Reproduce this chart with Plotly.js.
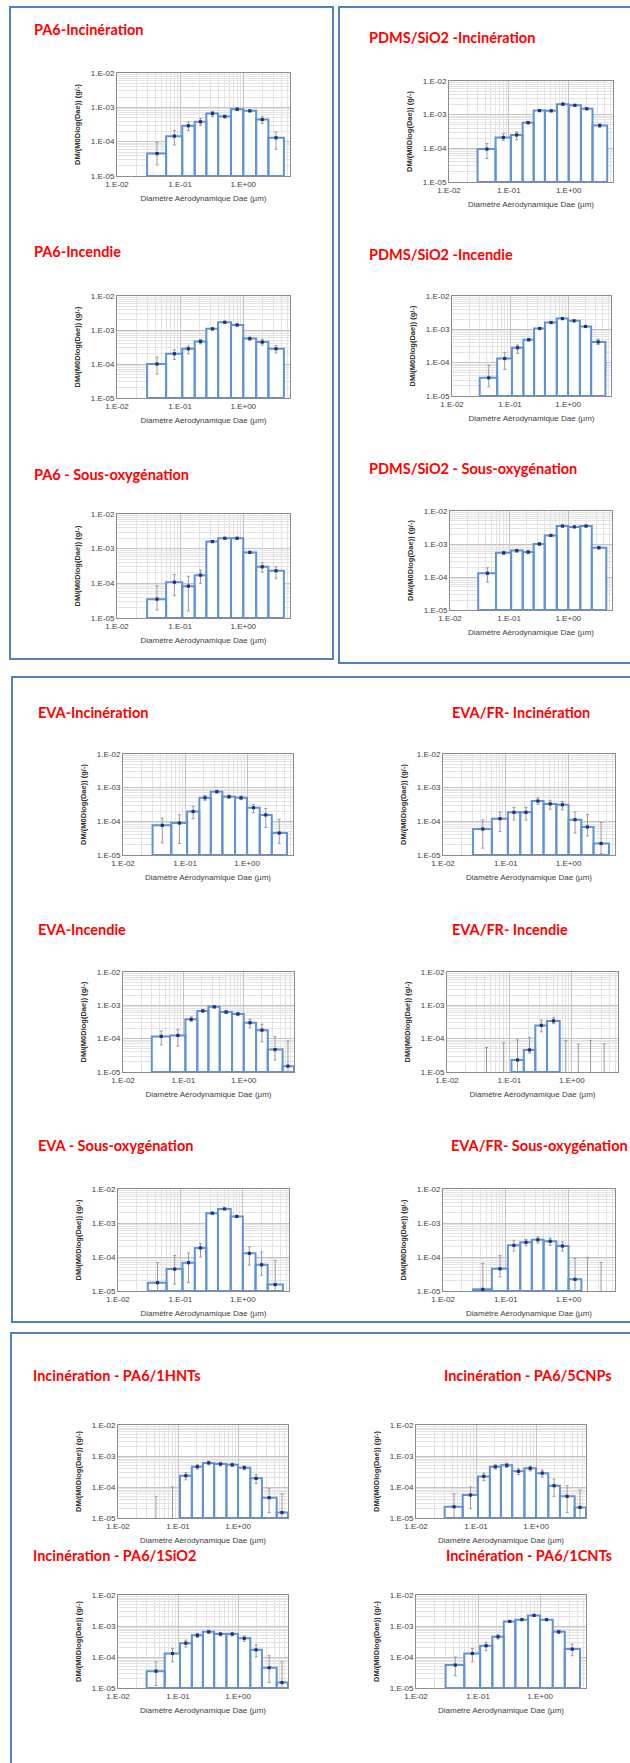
<!DOCTYPE html>
<html><head><meta charset="utf-8">
<script src="https://cdn.plot.ly/plotly-3.0.1.min.js"></script>
<style>html,body{margin:0;padding:0;background:#fff}#chart{width:630px;height:1763px}</style>
</head><body><div id="chart"></div>
<script>
// ---------- shared data ----------
const binEdges   = [0.03, 0.06, 0.108, 0.17, 0.26, 0.40, 0.64, 1.0, 1.6, 2.5, 4.4, 6.8];
const binCenters = [0.043, 0.081, 0.135, 0.21, 0.325, 0.51, 0.80, 1.27, 2.0, 3.3, 5.4];
const xTickVals = [0.01, 0.1, 1];
const xTickText = ['1.E-02', '1.E-01', '1.E+00'];
const yTickVals = [1e-5, 1e-4, 1e-3, 1e-2];
const yTickText = ['1.E-05', '1.E-04', '1.E-03', '1.E-02'];
const xAxisTitle = 'Diamètre Aérodynamique Dae (µm)';
const yAxisTitle = 'DM/(M0Dlog(Dae)) (g/-)';
const chartTitles = [
  'PA6-Incinération', 'PDMS/SiO2 -Incinération',
  'PA6-Incendie', 'PDMS/SiO2 -Incendie',
  'PA6 - Sous-oxygénation', 'PDMS/SiO2 - Sous-oxygénation',
  'EVA-Incinération', 'EVA/FR- Incinération',
  'EVA-Incendie', 'EVA/FR- Incendie',
  'EVA - Sous-oxygénation', 'EVA/FR- Sous-oxygénation',
  'Incinération - PA6/1HNTs', 'Incinération - PA6/5CNPs',
  'Incinération - PA6/1SiO2', 'Incinération - PA6/1CNTs'
];

// ---------- per-chart values (value, whisker top, whisker bottom) ----------
const pa6IncinVals = [4.5e-5, 1.45e-4, 2.9e-4, 3.8e-4, 6.6e-4, 5.4e-4, 8.8e-4, 7.9e-4, 4.4e-4, 1.3e-4];
const pa6IncinHi   = [9.5e-5, 2.1e-4, 3.8e-4, 4.7e-4, 7.6e-4, 5.9e-4, 9.4e-4, 8.4e-4, 5.3e-4, 1.9e-4];
const pa6IncinLo   = [2.1e-5, 8.0e-5, 2.1e-4, 3.0e-4, 5.3e-4, 4.9e-4, 8.2e-4, 7.4e-4, 3.4e-4, 6.0e-5];

const pdmsIncinVals = [9.5e-5, 2.1e-4, 2.5e-4, 5.8e-4, 1.32e-3, 1.3e-3, 2.05e-3, 1.9e-3, 1.5e-3, 4.8e-4];
const pdmsIncinHi   = [1.4e-4, 2.7e-4, 3.1e-4, 6.3e-4, 1.4e-3, 1.38e-3, 2.2e-3, 2.0e-3, 1.6e-3, 5.2e-4];
const pdmsIncinLo   = [5.0e-5, 1.7e-4, 1.8e-4, 5.3e-4, 1.24e-3, 1.22e-3, 1.9e-3, 1.8e-3, 1.4e-3, 4.2e-4];

const pa6FireVals = [1.0e-4, 2.0e-4, 2.8e-4, 4.6e-4, 1.08e-3, 1.69e-3, 1.41e-3, 5.6e-4, 4.4e-4, 2.8e-4];
const pa6FireHi   = [1.6e-4, 2.6e-4, 3.4e-4, 5.2e-4, 1.15e-3, 1.8e-3, 1.5e-3, 6.2e-4, 5.3e-4, 3.5e-4];
const pa6FireLo   = [5.1e-5, 1.35e-4, 2.0e-4, 3.9e-4, 1.0e-3, 1.58e-3, 1.32e-3, 5.0e-4, 3.6e-4, 2.1e-4];

const pdmsFireVals = [3.5e-5, 1.33e-4, 2.8e-4, 4.9e-4, 1.06e-3, 1.6e-3, 2.1e-3, 1.8e-3, 1.22e-3, 4.2e-4];
const pdmsFireHi   = [8.4e-5, 2.0e-4, 3.4e-4, 5.3e-4, 1.12e-3, 1.7e-3, 2.2e-3, 1.9e-3, 1.3e-3, 5.1e-4];
const pdmsFireLo   = [1.9e-5, 6.3e-5, 1.9e-4, 4.4e-4, 1.0e-3, 1.5e-3, 2.0e-3, 1.7e-3, 1.14e-3, 3.5e-4];

const pa6LowO2Vals = [3.5e-5, 1.08e-4, 8.3e-5, 1.72e-4, 1.6e-3, 2.0e-3, 2.0e-3, 7.8e-4, 3.0e-4, 2.3e-4];
const pa6LowO2Hi   = [8.5e-5, 1.8e-4, 1.6e-4, 2.4e-4, 1.7e-3, 2.1e-3, 2.1e-3, 8.3e-4, 3.9e-4, 3.0e-4];
const pa6LowO2Lo   = [1.7e-5, 4.4e-5, 1.6e-5, 1.0e-4, 1.5e-3, 1.9e-3, 1.9e-3, 7.3e-4, 2.1e-4, 1.4e-4];

const pdmsLowO2Vals = [1.3e-4, 5.4e-4, 6.3e-4, 5.7e-4, 1.0e-3, 1.82e-3, 3.5e-3, 3.3e-3, 3.5e-3, 7.7e-4];
const pdmsLowO2Hi   = [1.9e-4, 6.0e-4, 6.9e-4, 6.3e-4, 1.1e-3, 1.92e-3, 3.7e-3, 3.5e-3, 3.7e-3, 8.3e-4];
const pdmsLowO2Lo   = [7.0e-5, 4.8e-4, 5.6e-4, 5.1e-4, 9.0e-4, 1.72e-3, 3.3e-3, 3.1e-3, 3.3e-3, 7.1e-4];

const evaIncinVals = [7.6e-5, 8.9e-5, 1.96e-4, 5.0e-4, 7.6e-4, 5.4e-4, 5.0e-4, 2.55e-4, 1.55e-4, 4.5e-5];
const evaIncinHi   = [1.24e-4, 1.56e-4, 2.8e-4, 5.8e-4, 8.2e-4, 6.0e-4, 5.6e-4, 3.2e-4, 2.4e-4, 1.15e-4];
const evaIncinLo   = [2.3e-5, 2.2e-5, 1.2e-4, 4.2e-4, 7.0e-4, 4.8e-4, 4.4e-4, 1.8e-4, 6.6e-5, 2.2e-5];

const evaFrIncinVals = [5.9e-5, 1.2e-4, 1.85e-4, 1.85e-4, 4.0e-4, 3.3e-4, 3.1e-4, 1.12e-4, 6.8e-5, 2.2e-5];
const evaFrIncinHi   = [1.1e-4, 1.9e-4, 2.6e-4, 2.6e-4, 5.0e-4, 4.2e-4, 3.9e-4, 1.9e-4, 1.6e-4, 9.2e-5];
const evaFrIncinLo   = [1.6e-5, 5.0e-5, 1.1e-4, 1.1e-4, 3.2e-4, 2.3e-4, 2.2e-4, 4.5e-5, 3.7e-5, 1.1e-5];

const evaFireVals = [1.17e-4, 1.25e-4, 3.8e-4, 6.8e-4, 9.0e-4, 6.3e-4, 5.5e-4, 3.0e-4, 1.8e-4, 4.7e-5, 1.5e-5];
const evaFireHi   = [1.7e-4, 1.9e-4, 4.5e-4, 7.4e-4, 9.6e-4, 6.9e-4, 6.1e-4, 3.8e-4, 2.7e-4, 1.15e-4, 8.5e-5];
const evaFireLo   = [6.5e-5, 6.0e-5, 3.3e-4, 6.2e-4, 8.4e-4, 5.7e-4, 4.9e-4, 2.1e-4, 8.0e-5, 2.3e-5, 3e-6];

const evaFrFireVals = [3e-6, 3e-6, 2.3e-5, 4.6e-5, 2.5e-4, 3.4e-4, 3e-6, 3e-6, 3e-6, 3e-6];
const evaFrFireHi   = [5.4e-5, 7.5e-5, 9.2e-5, 1.1e-4, 3.6e-4, 4.2e-4, 8.7e-5, 6.9e-5, 8.9e-5, 7.0e-5];
const evaFrFireLo   = [3e-6, 3e-6, 3e-6, 3.7e-5, 1.6e-4, 2.8e-4, 3e-6, 3e-6, 3e-6, 3e-6];

const evaLowO2Vals = [1.76e-5, 4.4e-5, 6.8e-5, 1.85e-4, 1.95e-3, 2.6e-3, 1.56e-3, 1.28e-4, 5.9e-5, 1.55e-5];
const evaLowO2Hi   = [6.9e-5, 1.1e-4, 1.3e-4, 2.5e-4, 2.05e-3, 2.7e-3, 1.65e-3, 2.0e-4, 1.4e-4, 8.0e-5];
const evaLowO2Lo   = [3e-6, 1.6e-5, 1.8e-5, 1.0e-4, 1.85e-3, 2.5e-3, 1.47e-3, 5.8e-5, 2.9e-5, 3e-6];

const evaFrLowO2Vals = [1.12e-5, 4.5e-5, 2.2e-4, 2.7e-4, 3.2e-4, 2.9e-4, 2.1e-4, 2.2e-5, 3e-6, 3e-6];
const evaFrLowO2Hi   = [6.5e-5, 1.1e-4, 3.1e-4, 3.3e-4, 3.9e-4, 3.6e-4, 2.8e-4, 9.0e-5, 9.4e-5, 6.9e-5];
const evaFrLowO2Lo   = [3e-6, 2.6e-5, 1.5e-4, 2.1e-4, 2.6e-4, 2.2e-4, 1.5e-4, 3e-6, 3e-6, 3e-6];

const hntVals = [3e-6, 3e-6, 2.3e-4, 4.5e-4, 6.0e-4, 5.5e-4, 5.2e-4, 4.2e-4, 1.9e-4, 4.5e-5, 1.5e-5];
const hntHi   = [5e-5, 1.0e-4, 2.9e-4, 5.2e-4, 6.8e-4, 6.2e-4, 5.8e-4, 4.8e-4, 2.5e-4, 9e-5, 6e-5];
const hntLo   = [3e-6, 3e-6, 1.7e-4, 3.8e-4, 5.2e-4, 4.8e-4, 4.6e-4, 3.6e-4, 1.3e-4, 1.5e-5, 3e-6];

const cnpVals = [2.3e-5, 5.5e-5, 2.2e-4, 4.5e-4, 5.0e-4, 3.2e-4, 4.0e-4, 2.8e-4, 1.1e-4, 5.0e-5, 2.2e-5];
const cnpHi   = [6e-5, 1.0e-4, 2.8e-4, 5.2e-4, 5.8e-4, 3.9e-4, 4.7e-4, 3.5e-4, 1.8e-4, 1.1e-4, 8e-5];
const cnpLo   = [3e-6, 2e-5, 1.6e-4, 3.8e-4, 4.3e-4, 2.5e-4, 3.3e-4, 2.1e-4, 5e-5, 1.5e-5, 3e-6];

const sio2Vals = [3.5e-5, 1.3e-4, 2.8e-4, 5.0e-4, 6.5e-4, 5.5e-4, 5.5e-4, 4.0e-4, 1.7e-4, 4.5e-5, 1.5e-5];
const sio2Hi   = [7e-5, 1.9e-4, 3.5e-4, 5.7e-4, 7.2e-4, 6.2e-4, 6.2e-4, 4.8e-4, 2.5e-4, 1.1e-4, 7e-5];
const sio2Lo   = [1.2e-5, 7e-5, 2.1e-4, 4.3e-4, 5.8e-4, 4.8e-4, 4.8e-4, 3.2e-4, 1.0e-4, 1.5e-5, 3e-6];

const cntVals = [5.5e-5, 1.3e-4, 2.3e-4, 4.5e-4, 1.4e-3, 1.6e-3, 2.2e-3, 1.6e-3, 6.5e-4, 1.8e-4];
const cntHi   = [1.0e-4, 1.9e-4, 3.0e-4, 5.2e-4, 1.5e-3, 1.7e-3, 2.35e-3, 1.7e-3, 7.2e-4, 2.6e-4];
const cntLo   = [2.5e-5, 7e-5, 1.6e-4, 3.8e-4, 1.3e-3, 1.5e-3, 2.05e-3, 1.5e-3, 5.8e-4, 1.1e-4];

// ---------- layout of panels (pixel boxes on the 630x1763 page) ----------
const W = 630, H = 1763;
const panels = [
  {t: 0,  v: pa6IncinVals,   hi: pa6IncinHi,   lo: pa6IncinLo,   px: [117, 290], py: [73, 176],   tx: 32,  ty: 29,   xmax: 5.5},
  {t: 1,  v: pdmsIncinVals,  hi: pdmsIncinHi,  lo: pdmsIncinLo,  px: [449, 613], py: [81, 182],   tx: 367, ty: 38,   xmax: 5.5},
  {t: 2,  v: pa6FireVals,    hi: pa6FireHi,    lo: pa6FireLo,    px: [117, 290], py: [296, 398],  tx: 32,  ty: 252,  xmax: 5.5},
  {t: 3,  v: pdmsFireVals,   hi: pdmsFireHi,   lo: pdmsFireLo,   px: [452, 611], py: [296, 396],  tx: 367, ty: 255,  xmax: 5.5},
  {t: 4,  v: pa6LowO2Vals,   hi: pa6LowO2Hi,   lo: pa6LowO2Lo,   px: [117, 290], py: [514, 618],  tx: 32,  ty: 474,  xmax: 5.5},
  {t: 5,  v: pdmsLowO2Vals,  hi: pdmsLowO2Hi,  lo: pdmsLowO2Lo,  px: [450, 612], py: [511, 610],  tx: 367, ty: 468,  xmax: 5.5},
  {t: 6,  v: evaIncinVals,   hi: evaIncinHi,   lo: evaIncinLo,   px: [123, 293], py: [754, 855],  tx: 36,  ty: 712,  xmax: 5.5},
  {t: 7,  v: evaFrIncinVals, hi: evaFrIncinHi, lo: evaFrIncinLo, px: [443, 615], py: [754, 855],  tx: 450, ty: 712,  xmax: 5.5},
  {t: 8,  v: evaFireVals,    hi: evaFireHi,    lo: evaFireLo,    px: [123, 294], py: [972, 1072], tx: 36,  ty: 929,  xmax: 6.8},
  {t: 9,  v: evaFrFireVals,  hi: evaFrFireHi,  lo: evaFrFireLo,  px: [447, 618], py: [972, 1072], tx: 450, ty: 929,  xmax: 5.5},
  {t: 10, v: evaLowO2Vals,   hi: evaLowO2Hi,   lo: evaLowO2Lo,   px: [118, 289], py: [1189, 1291], tx: 36, ty: 1145, xmax: 5.5},
  {t: 11, v: evaFrLowO2Vals, hi: evaFrLowO2Hi, lo: evaFrLowO2Lo, px: [443, 615], py: [1189, 1291], tx: 449, ty: 1145, xmax: 5.5},
  {t: 12, v: hntVals,        hi: hntHi,        lo: hntLo,        px: [118, 288], py: [1425, 1518], tx: 31, ty: 1375, xmax: 6.8},
  {t: 13, v: cnpVals,        hi: cnpHi,        lo: cnpLo,        px: [416, 586], py: [1425, 1518], tx: 442, ty: 1375, xmax: 6.8},
  {t: 14, v: sio2Vals,       hi: sio2Hi,       lo: sio2Lo,       px: [118, 288], py: [1595, 1688], tx: 31, ty: 1555, xmax: 6.8},
  {t: 15, v: cntVals,        hi: cntHi,        lo: cntLo,        px: [416, 586], py: [1595, 1688], tx: 444, ty: 1555, xmax: 5.5}
];

const yMin = 1e-5, yMax = 1e-2;
const BAR = '#5f93d4', MARK = '#1f2f86', ERR = '#9a9a9a';
const tickFont = {family: 'Liberation Sans, Arial, sans-serif', size: 8, color: '#404040'};

// minor grid positions (2..9 in each decade)
function minorGrid(lo, hi) {
  const out = [];
  for (let d = lo; d < hi; d++) for (let k = 2; k <= 9; k++) out.push(k * Math.pow(10, d));
  return out;
}
const xMinor = minorGrid(-2, 1);
const yMinor = minorGrid(-5, -2);

const traces = [];
const layout = {
  width: W, height: H, margin: {l: 0, r: 0, t: 0, b: 0},
  paper_bgcolor: '#ffffff', plot_bgcolor: '#ffffff',
  showlegend: false, annotations: [], shapes: []
};

panels.forEach((p, idx) => {
  const n = idx + 1;
  const xa = 'x' + (n === 1 ? '' : n), ya = 'y' + (n === 1 ? '' : n);
  const xk = 'xaxis' + (n === 1 ? '' : n), yk = 'yaxis' + (n === 1 ? '' : n);

  // histogram-style outlined bars
  const bx = [], by = [];
  p.v.forEach((val, i) => {
    if (val < yMin) return;
    const a = binEdges[i], b = binEdges[i + 1];
    bx.push(a, a, b, b, a, null);
    by.push(yMin, val, val, yMin, yMin, null);
  });
  traces.push({
    type: 'scatter', mode: 'lines', x: bx, y: by, xaxis: xa, yaxis: ya,
    fill: 'toself', fillcolor: '#ffffff', line: {color: BAR, width: 2},
    hoverinfo: 'skip'
  });

  // measured points with error bars
  traces.push({
    type: 'scatter', mode: 'markers', xaxis: xa, yaxis: ya,
    x: binCenters.slice(0, p.v.length), y: p.v,
    marker: {color: MARK, size: 3.2, symbol: 'square'},
    error_y: {
      type: 'data', symmetric: false,
      array: p.hi.map((h, i) => Math.max(0, h - p.v[i])),
      arrayminus: p.lo.map((l, i) => Math.max(0, p.v[i] - l)),
      color: ERR, thickness: 1, width: 1.5
    }
  });

  const common = {
    type: 'log', showgrid: true, gridcolor: '#c4c4c4', gridwidth: 1,
    showline: true, mirror: true, linecolor: '#8c8c8c', linewidth: 1,
    zeroline: false, ticks: '', tickfont: tickFont, fixedrange: true,
    tickmode: 'array'
  };
  layout[xk] = Object.assign({}, common, {
    domain: [p.px[0] / W, p.px[1] / W], anchor: ya,
    range: [Math.log10(0.01), Math.log10(p.xmax)],
    tickvals: xTickVals, ticktext: xTickText,
    minor: {tickmode: 'array', tickvals: xMinor, showgrid: true, gridcolor: '#e3e3e3', gridwidth: 1, ticks: ''},
    title: {text: xAxisTitle, font: {family: 'Liberation Sans, Arial, sans-serif', size: 8, color: '#404040'}, standoff: 7}
  });
  layout[yk] = Object.assign({}, common, {
    domain: [1 - p.py[1] / H, 1 - p.py[0] / H], anchor: xa,
    range: [Math.log10(yMin), Math.log10(yMax)],
    tickvals: yTickVals, ticktext: yTickText,
    minor: {tickmode: 'array', tickvals: yMinor, showgrid: true, gridcolor: '#e3e3e3', gridwidth: 1, ticks: ''},
    title: {text: '<b>' + yAxisTitle + '</b>', font: {family: 'Liberation Sans, Arial, sans-serif', size: 7.5, color: '#303030'}, standoff: 9}
  });

  layout.annotations.push({
    xref: 'paper', yref: 'paper', x: p.tx / W, y: 1 - p.ty / H,
    xanchor: 'left', yanchor: 'middle', showarrow: false,
    text: '<b>' + chartTitles[p.t] + '</b>',
    font: {family: 'Lato, Open Sans, sans-serif', size: 14.5, color: '#ff0000'}
  });
});

// blue frames around the three groups
const frames = [
  [10, 333, 7, 659], [339, 650, 7, 663],
  [12, 650, 677, 1322],
  [11, 650, 1333, 1790]
];
frames.forEach(f => layout.shapes.push({
  type: 'rect', xref: 'paper', yref: 'paper',
  x0: f[0] / W, x1: f[1] / W, y0: 1 - f[3] / H, y1: 1 - f[2] / H,
  line: {color: '#4f81bd', width: 2}, fillcolor: 'rgba(0,0,0,0)', layer: 'above'
}));

Plotly.newPlot('chart', traces, layout, {staticPlot: true, displayModeBar: false});
</script>
</body></html>
